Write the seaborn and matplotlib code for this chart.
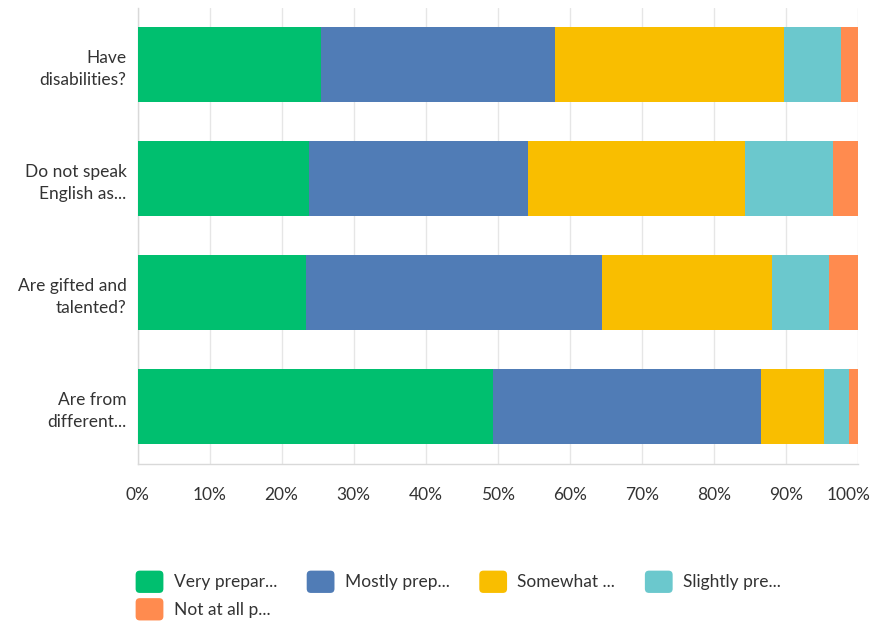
import matplotlib
matplotlib.use("Agg")
import matplotlib.pyplot as plt
import matplotlib.transforms as mtrans
import seaborn as sns
import pandas as pd
import numpy as np
from matplotlib.patches import Patch, FancyBboxPatch
from matplotlib.legend_handler import HandlerPatch
from matplotlib.ticker import PercentFormatter

categories = ["Have\ndisabilities?", "Do not speak\nEnglish as...", "Are gifted and\ntalented?", "Are from\ndifferent..."]
series = ["Very prepar...", "Mostly prep...", "Somewhat ...", "Slightly pre...", "Not at all p..."]
very = [25.4, 23.8, 23.4, 49.4]
mostly = [32.6, 30.4, 41.1, 37.2]
somewhat = [31.7, 30.1, 23.5, 8.7]
slightly = [8.0, 12.2, 8.0, 3.5]
not_at_all = [2.3, 3.5, 4.0, 1.2]
colors = ["#00BF6F", "#507CB6", "#F9BE00", "#6BC8CD", "#FF8B4F"]
xticks = [0, 10, 20, 30, 40, 50, 60, 70, 80, 90, 100]

values = [very, mostly, somewhat, slightly, not_at_all]
cum = np.cumsum(np.array(values), axis=0)

sns.set_theme(style="white")
plt.rcParams["font.family"] = ["Lato", "DejaVu Sans"]

fig = plt.figure(figsize=(8.73, 6.24), dpi=100)
ax = fig.add_axes([137.5 / 873, (624 - 463.5) / 624, (858 - 137.5) / 873, 456 / 624])

for i in range(len(series) - 1, -1, -1):
    df = pd.DataFrame({"cat": categories, "val": cum[i]})
    sns.barplot(data=df, x="val", y="cat", color=colors[i], orient="h",
                width=0.66, ax=ax, saturation=1, linewidth=0, zorder=3)

ax.set_xlim(0, 100)
ax.set_ylim(3.5, -0.5)
ax.set_xticks(xticks)
ax.xaxis.set_major_formatter(PercentFormatter(decimals=0))
ax.set_xlabel("")
ax.set_ylabel("")
ax.grid(axis="x", color="#e6e6e6", linewidth=1, zorder=0)
ax.grid(axis="y", visible=False)
for s in ["top", "right"]:
    ax.spines[s].set_visible(False)
for s in ["left", "bottom"]:
    ax.spines[s].set_color("#d9d9d9")
    ax.spines[s].set_linewidth(1)
ax.tick_params(axis="x", length=0, pad=17, labelsize=12.5, labelcolor="#333333")
ax.tick_params(axis="y", length=0, pad=8, labelsize=12.5, labelcolor="#333333")
for t in ax.get_yticklabels():
    t.set_horizontalalignment("right")
    t.set_multialignment("right")
    t.set_linespacing(1.45)

# nudge the last tick label so it stays inside the figure
last_tick = ax.xaxis.get_major_ticks()[-1]
last_tick.label1.set_transform(last_tick.label1.get_transform() +
                               mtrans.ScaledTranslation(-9 / 100, 0, fig.dpi_scale_trans))

def rounded(legend, orig_handle, xdescent, ydescent, width, height, fontsize):
    return FancyBboxPatch((-xdescent, -ydescent), width, height,
                          boxstyle="round,pad=0,rounding_size=3")

order = [0, 4, 1, 2, 3]
handles = [Patch(facecolor=colors[i], edgecolor="none") for i in order]
labels = [series[i] for i in order]
leg = fig.legend(handles, labels, ncol=4, loc="upper left",
                 bbox_to_anchor=(120 / 873, 1 - 555 / 624), frameon=False,
                 fontsize=12.5, handlelength=1.6, handleheight=1.6,
                 handletextpad=0.6, columnspacing=1.7, labelspacing=0.3,
                 handler_map={Patch: HandlerPatch(patch_func=rounded)})
for t in leg.get_texts():
    t.set_color("#333333")

fig.savefig("out.png", dpi=100)
